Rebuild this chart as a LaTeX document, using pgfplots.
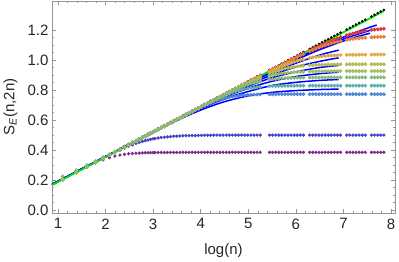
\documentclass[border=0pt]{standalone}
\usepackage{fontspec}
\setmainfont{Liberation Sans}
\usepackage{pgfplots}
\usepackage{pgfplotstable}
\pgfplotsset{compat=1.18}
\definecolor{cA}{RGB}{122,42,142}
\definecolor{cB}{RGB}{68,64,200}
\definecolor{cC}{RGB}{79,134,214}
\definecolor{cD}{RGB}{95,175,170}
\definecolor{cE}{RGB}{134,185,122}
\definecolor{cF}{RGB}{157,190,98}
\definecolor{cG}{RGB}{184,184,80}
\definecolor{cH}{RGB}{221,170,68}
\definecolor{cI}{RGB}{232,128,58}
\definecolor{cJ}{RGB}{217,58,58}
\definecolor{glin}{RGB}{0,230,0}
\definecolor{frame}{RGB}{150,150,150}
\pgfplotstableread{
x A B C D E F G H I J K
1.099 0.203 0.203 0.203 0.203 0.224 0.203 0.203 0.203 0.203 0.203 0.210
1.386 0.251 0.251 0.251 0.251 0.266 0.251 0.251 0.251 0.251 0.251 0.258
1.609 0.287 0.288 0.288 0.288 0.299 0.288 0.288 0.288 0.288 0.288 0.295
1.792 0.314 0.318 0.319 0.319 0.327 0.319 0.319 0.319 0.319 0.319 0.326
1.946 0.335 0.344 0.344 0.344 0.352 0.344 0.344 0.344 0.344 0.344 0.351
2.079 0.349 0.365 0.367 0.367 0.371 0.367 0.367 0.367 0.367 0.367 0.374
2.197 0.360 0.383 0.386 0.386 0.386 0.386 0.386 0.386 0.386 0.386 0.393
2.303 0.367 0.399 0.404 0.404 0.404 0.404 0.404 0.404 0.404 0.404 0.411
2.398 0.372 0.413 0.420 0.420 0.420 0.420 0.420 0.420 0.420 0.420 0.427
2.485 0.375 0.425 0.434 0.434 0.434 0.434 0.434 0.434 0.434 0.434 0.441
2.565 0.377 0.435 0.448 0.448 0.448 0.448 0.448 0.448 0.448 0.448 0.455
2.639 0.379 0.444 0.460 0.460 0.460 0.460 0.460 0.460 0.460 0.460 0.467
2.708 0.380 0.451 0.471 0.471 0.471 0.471 0.471 0.471 0.471 0.471 0.478
2.773 0.381 0.457 0.482 0.482 0.482 0.482 0.482 0.482 0.482 0.482 0.489
2.833 0.382 0.463 0.492 0.492 0.492 0.492 0.492 0.492 0.492 0.492 0.499
2.890 0.382 0.467 0.502 0.502 0.502 0.502 0.502 0.502 0.502 0.502 0.509
2.944 0.383 0.471 0.511 0.511 0.511 0.511 0.511 0.511 0.511 0.511 0.518
2.996 0.383 0.475 0.519 0.519 0.519 0.519 0.519 0.519 0.519 0.519 0.526
3.040 0.383 0.477 0.527 0.527 0.527 0.527 0.527 0.527 0.527 0.527 0.534
3.105 0.384 0.481 0.538 0.538 0.538 0.538 0.538 0.538 0.538 0.538 0.545
3.170 0.384 0.484 0.548 0.548 0.548 0.548 0.548 0.548 0.548 0.548 0.555
3.235 0.384 0.486 0.559 0.559 0.559 0.559 0.559 0.559 0.559 0.559 0.566
3.300 0.384 0.488 0.570 0.570 0.570 0.570 0.570 0.570 0.570 0.570 0.577
3.365 0.384 0.490 0.581 0.581 0.581 0.581 0.581 0.581 0.581 0.581 0.588
3.430 0.384 0.492 0.592 0.592 0.592 0.592 0.592 0.592 0.592 0.592 0.599
3.495 0.384 0.493 0.603 0.603 0.603 0.603 0.603 0.603 0.603 0.603 0.610
3.560 0.384 0.494 0.613 0.613 0.613 0.613 0.613 0.613 0.613 0.613 0.620
3.625 0.385 0.495 0.624 0.624 0.624 0.624 0.624 0.624 0.624 0.624 0.631
3.690 0.385 0.496 0.634 0.635 0.635 0.635 0.635 0.635 0.635 0.635 0.642
3.755 0.385 0.496 0.645 0.646 0.646 0.646 0.646 0.646 0.646 0.646 0.653
3.820 0.385 0.497 0.655 0.657 0.657 0.657 0.657 0.657 0.657 0.657 0.664
3.885 0.385 0.497 0.666 0.667 0.668 0.668 0.668 0.668 0.668 0.668 0.675
3.950 0.385 0.498 0.676 0.678 0.678 0.678 0.678 0.678 0.678 0.678 0.685
4.015 0.385 0.498 0.686 0.688 0.689 0.689 0.689 0.689 0.689 0.689 0.696
4.080 0.385 0.499 0.696 0.699 0.700 0.700 0.700 0.700 0.700 0.700 0.707
4.145 0.385 0.499 0.705 0.709 0.710 0.711 0.711 0.711 0.711 0.711 0.718
4.210 0.385 0.499 0.714 0.720 0.721 0.722 0.722 0.722 0.722 0.722 0.729
4.275 0.385 0.500 0.722 0.730 0.732 0.733 0.733 0.733 0.733 0.733 0.740
4.340 0.385 0.500 0.729 0.739 0.742 0.743 0.743 0.743 0.743 0.743 0.750
4.405 0.385 0.500 0.737 0.749 0.753 0.754 0.754 0.754 0.754 0.754 0.761
4.470 0.385 0.500 0.743 0.758 0.763 0.764 0.765 0.765 0.765 0.765 0.772
4.535 0.385 0.500 0.748 0.767 0.773 0.775 0.775 0.776 0.776 0.776 0.783
4.600 0.385 0.500 0.753 0.775 0.783 0.785 0.786 0.787 0.787 0.787 0.794
4.665 0.385 0.500 0.757 0.783 0.793 0.796 0.797 0.798 0.798 0.798 0.805
4.730 0.385 0.500 0.760 0.790 0.802 0.806 0.807 0.808 0.808 0.808 0.815
4.795 0.385 0.500 0.763 0.796 0.811 0.816 0.818 0.819 0.819 0.819 0.826
4.860 0.385 0.500 0.765 0.802 0.820 0.826 0.828 0.830 0.830 0.830 0.837
4.925 0.385 0.500 0.766 0.807 0.828 0.835 0.839 0.840 0.841 0.841 0.848
4.990 0.385 0.500 0.768 0.811 0.836 0.845 0.849 0.851 0.852 0.852 0.859
5.055 0.385 0.500 0.769 0.814 0.843 0.853 0.859 0.861 0.863 0.863 0.870
5.120 0.385 0.500 0.770 0.817 0.849 0.862 0.869 0.872 0.873 0.873 0.880
5.185 0.385 0.500 0.771 0.820 0.854 0.870 0.878 0.882 0.884 0.884 0.891
5.250 0.385 0.500 0.771 0.822 0.859 0.877 0.887 0.893 0.895 0.895 0.902
5.445 0.385 0.500 0.772 0.826 0.871 0.896 0.913 0.923 0.927 0.928 0.935
5.510 0.385 0.500 0.772 0.827 0.873 0.900 0.920 0.933 0.938 0.938 0.945
5.575 0.385 0.500 0.772 0.827 0.875 0.905 0.927 0.942 0.948 0.949 0.956
5.640 0.385 0.500 0.773 0.828 0.877 0.909 0.933 0.951 0.959 0.960 0.967
5.705 0.385 0.500 0.773 0.828 0.879 0.912 0.939 0.960 0.969 0.971 0.978
5.770 0.385 0.500 0.773 0.829 0.880 0.914 0.944 0.968 0.980 0.981 0.989
5.835 0.385 0.500 0.773 0.829 0.881 0.917 0.949 0.976 0.990 0.992 1.000
5.900 0.385 0.500 0.773 0.829 0.882 0.918 0.952 0.983 1.001 1.002 1.010
5.965 0.385 0.500 0.773 0.829 0.882 0.920 0.956 0.990 1.011 1.013 1.021
6.030 0.385 0.500 0.773 0.830 0.883 0.921 0.959 0.996 1.021 1.024 1.032
6.095 0.385 0.500 0.773 0.830 0.883 0.922 0.961 1.001 1.031 1.034 1.043
6.160 0.385 0.500 0.773 0.830 0.884 0.923 0.963 1.006 1.040 1.044 1.054
6.290 0.385 0.500 0.773 0.830 0.884 0.924 0.966 1.015 1.059 1.065 1.075
6.355 0.385 0.500 0.773 0.830 0.884 0.925 0.967 1.019 1.068 1.075 1.086
6.420 0.385 0.500 0.773 0.830 0.885 0.925 0.968 1.022 1.076 1.085 1.097
6.485 0.385 0.500 0.773 0.830 0.885 0.926 0.969 1.024 1.084 1.094 1.108
6.550 0.385 0.500 0.773 0.830 0.885 0.926 0.970 1.026 1.092 1.104 1.119
6.615 0.385 0.500 0.773 0.830 0.885 0.926 0.970 1.028 1.099 1.113 1.130
6.680 0.385 0.500 0.773 0.830 0.885 0.926 0.971 1.030 1.106 1.122 1.140
6.745 0.385 0.500 0.773 0.830 0.885 0.926 0.971 1.031 1.112 1.130 1.151
6.810 0.385 0.500 0.773 0.830 0.885 0.927 0.971 1.032 1.118 1.138 1.162
6.875 0.385 0.500 0.773 0.830 0.885 0.927 0.972 1.033 1.123 1.146 1.173
6.940 0.385 0.500 0.773 0.830 0.885 0.927 0.972 1.034 1.128 1.154 1.184
7.070 0.385 0.500 0.773 0.830 0.885 0.927 0.972 1.035 1.136 1.167 1.205
7.135 0.385 0.500 0.773 0.830 0.885 0.927 0.973 1.036 1.139 1.173 1.216
7.200 0.385 0.500 0.773 0.830 0.885 0.927 0.973 1.036 1.142 1.178 1.227
7.265 0.385 0.500 0.773 0.830 0.885 0.927 0.973 1.036 1.145 1.183 1.238
7.330 0.385 0.500 0.773 0.830 0.885 0.927 0.973 1.037 1.147 1.188 1.249
7.395 0.385 0.500 0.773 0.830 0.885 0.927 0.973 1.037 1.149 1.192 1.260
7.460 0.385 0.500 0.773 0.830 0.885 0.927 0.973 1.037 1.150 1.196 1.270
7.590 0.385 0.500 0.773 0.830 0.885 0.927 0.973 1.037 1.153 1.202 1.292
7.655 0.385 0.500 0.773 0.830 0.885 0.927 0.973 1.038 1.154 1.204 1.303
7.720 0.385 0.500 0.773 0.830 0.885 0.927 0.973 1.038 1.155 1.206 1.314
7.785 0.385 0.500 0.773 0.830 0.885 0.927 0.973 1.038 1.156 1.208 1.325
7.850 0.385 0.500 0.773 0.830 0.885 0.927 0.973 1.038 1.156 1.210 1.335
}\data
\begin{document}
\begin{tikzpicture}
\begin{axis}[
  scale only axis, width=343pt, height=212pt,
  xmin=0.874, xmax=8.084, ymin=-0.02, ymax=1.395,
  xtick={1,2,3,4,5,6,7,8},
  ytick={0,0.2,0.4,0.6,0.8,1.0,1.2},
  minor x tick num=4, minor y tick num=3,
  tick align=inside, major tick length=4pt, minor tick length=2pt,
  axis line style={frame}, tick style={frame, line width=0.5pt},
  /pgf/number format/assume math mode=true,
  ticklabel style={font=\fontsize{15}{18}\selectfont, text=black!85},
  yticklabel style={/pgf/number format/.cd, fixed, fixed zerofill, precision=1},
  xticklabel style={yshift=-2pt},
  every axis x label/.style={at={(rel axis cs:0.5,0)}, yshift=-41.5pt, anchor=base},
  every axis y label/.style={at={(rel axis cs:0,0.5)}, xshift=-41.5pt, rotate=90, anchor=center},
  label style={font=\fontsize{15}{18}\selectfont, text=black!85},
  xlabel={log(n)},
  ylabel={S\textsubscript{\itshape E}(n,2n)},
  mark options={solid},
]
\addplot[only marks, mark=*, mark size=1.1pt, black] table[x=x, y=K]{\data};
\addplot[only marks, mark=*, mark size=1.45pt, cA] table[x=x, y=A]{\data};
\addplot[only marks, mark=*, mark size=1.45pt, cB] table[x=x, y=B]{\data};
\addplot[only marks, mark=*, mark size=1.75pt, cC] table[x=x, y=C]{\data};
\addplot[only marks, mark=*, mark size=1.75pt, cD] table[x=x, y=D]{\data};
\addplot[only marks, mark=*, mark size=1.75pt, cJ] table[x=x, y=J]{\data};
\addplot[only marks, mark=*, mark size=1.75pt, cI] table[x=x, y=I]{\data};
\addplot[only marks, mark=*, mark size=1.75pt, cH] table[x=x, y=H]{\data};
\addplot[only marks, mark=*, mark size=1.75pt, cG] table[x=x, y=G]{\data};
\addplot[only marks, mark=*, mark size=1.75pt, cF] table[x=x, y=F]{\data};
\addplot[only marks, mark=*, mark size=1.75pt, cE] table[x=x, y=E]{\data};
% fitted curves
\addplot[blue, line width=1.5pt, smooth, no marks] coordinates {(0.874,0.170) (2,0.356) (3,0.519) (3.5,0.597) (4,0.667) (4.5,0.723) (5,0.762) (5.5,0.785) (6,0.797) (6.5,0.804) (6.9,0.807)};
\addplot[blue, line width=1.5pt, smooth, no marks] coordinates {(0.874,0.170) (2,0.356) (3,0.519) (3.5,0.600) (4,0.676) (4.5,0.742) (5,0.791) (5.5,0.831) (6,0.852) (6.5,0.865) (6.9,0.871)};
\addplot[blue, line width=1.5pt, smooth, no marks] coordinates {(0.874,0.170) (2,0.356) (3,0.520) (3.5,0.601) (4,0.680) (4.5,0.752) (5,0.813) (5.5,0.859) (6,0.891) (6.5,0.910) (6.9,0.920)};
\addplot[blue, line width=1.5pt, smooth, no marks] coordinates {(0.874,0.170) (2,0.356) (3,0.521) (3.5,0.602) (4,0.683) (4.5,0.759) (5,0.826) (5.5,0.883) (6,0.922) (6.5,0.951) (6.9,0.965)};
\addplot[blue, line width=1.5pt, smooth, no marks] coordinates {(0.874,0.170) (2,0.356) (3,0.521) (3.5,0.603) (4,0.684) (4.5,0.763) (5,0.837) (5.5,0.901) (6,0.955) (6.5,0.992) (6.9,1.016)};
\addplot[blue, line width=1.5pt, smooth, no marks] coordinates {(0.874,0.170) (2,0.356) (3,0.521) (3.5,0.604) (4,0.686) (4.5,0.766) (5,0.844) (5.5,0.917) (6,0.980) (6.5,1.034) (6.9,1.067)};
\addplot[blue, line width=1.5pt, smooth, no marks] coordinates {(0.874,0.170) (2,0.356) (3,0.521) (4,0.688) (4.5,0.770) (5,0.851) (5.5,0.932) (6,1.010) (6.5,1.083) (7,1.154) (7.4,1.202) (7.7,1.235)};
\addplot[blue, line width=1.5pt, smooth, no marks] coordinates {(0.874,0.170) (2,0.356) (3,0.521) (4,0.688) (4.5,0.769) (5,0.850) (5.5,0.930) (6,1.007) (6.5,1.078) (7,1.141) (7.3,1.173) (7.62,1.205)};
\addplot[blue, line width=1.5pt, smooth, no marks] coordinates {(0.874,0.170) (2,0.356) (3,0.521) (4,0.687) (4.5,0.768) (5,0.849) (5.5,0.928) (6,1.002) (6.5,1.070) (7,1.128) (7.3,1.158) (7.56,1.180)};
% straight line
\addplot[glin, line width=1.8pt, no marks] coordinates {(0.874,0.166) (7.85,1.328)};
\end{axis}
\useasboundingbox ([shift={(-52pt,-48pt)}]current axis.south west) rectangle ([shift={(4pt,1pt)}]current axis.north east);
\end{tikzpicture}
\end{document}
